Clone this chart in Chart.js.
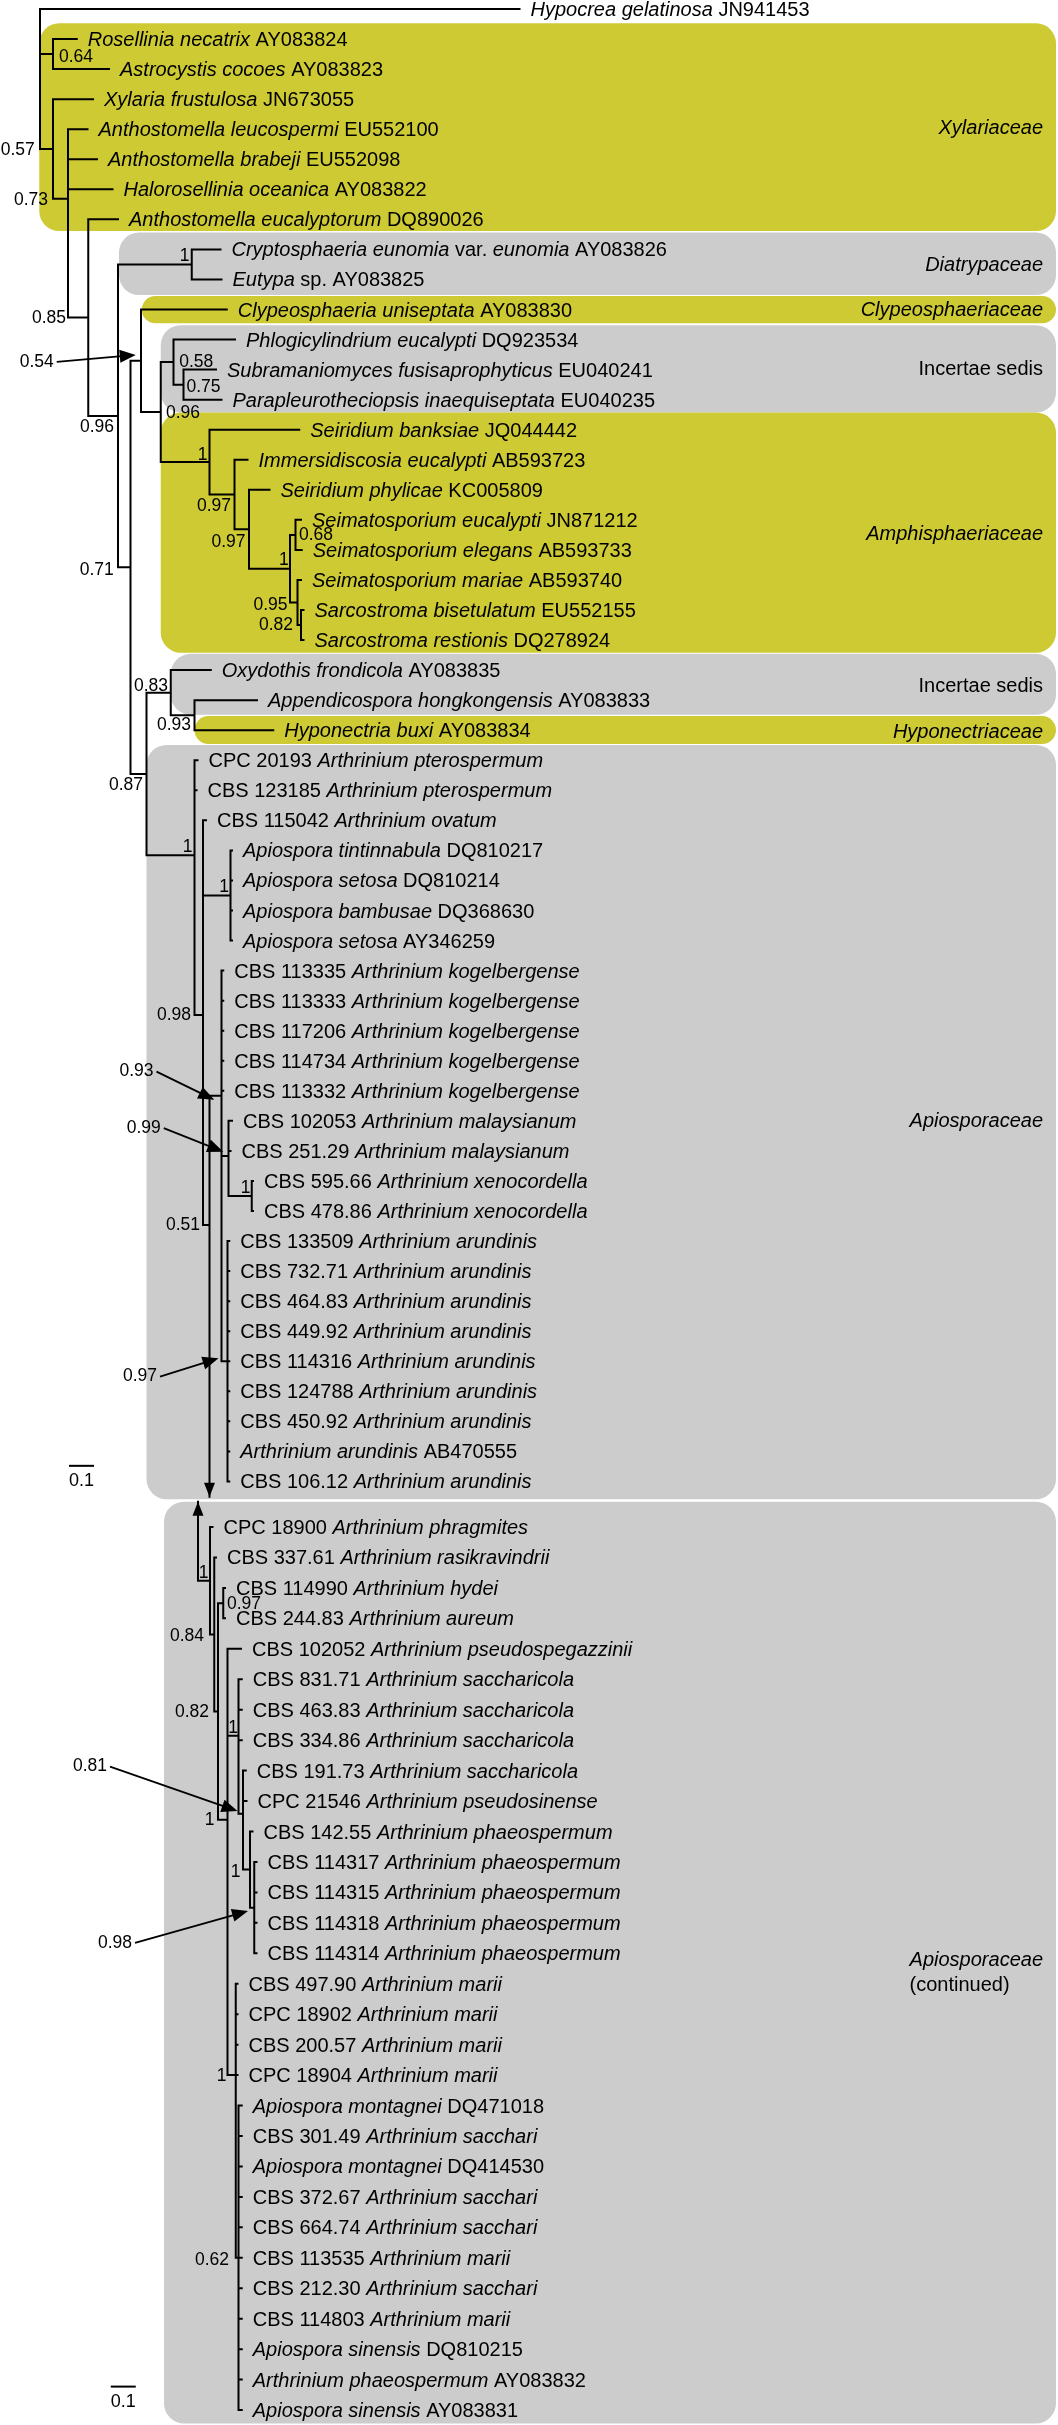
<!DOCTYPE html>
<html>
<head>
<meta charset="utf-8">
<script src="https://cdn.jsdelivr.net/npm/chart.js@4.4.1/dist/chart.umd.min.js"></script>
<style>
  html, body { margin: 0; padding: 0; background: #fff; }
  #wrap { position: relative; width: 1058px; height: 2425px; overflow: hidden; }
  #wrap canvas { position: absolute; left: 0; }
</style>
</head>
<body>
<div id="wrap">
  <canvas id="upper" width="1058" height="1501" style="top:0px"></canvas>
  <canvas id="lower" width="1058" height="935" style="top:1490px"></canvas>
</div>
<script>
// taxa, top to bottom. _..._ marks italic runs
const taxa = [
  "_Hypocrea gelatinosa_ JN941453",
  "_Rosellinia necatrix_ AY083824",
  "_Astrocystis cocoes_ AY083823",
  "_Xylaria frustulosa_ JN673055",
  "_Anthostomella leucospermi_ EU552100",
  "_Anthostomella brabeji_ EU552098",
  "_Halorosellinia oceanica_ AY083822",
  "_Anthostomella eucalyptorum_ DQ890026",
  "_Cryptosphaeria eunomia_ var. _eunomia_ AY083826",
  "_Eutypa_ sp. AY083825",
  "_Clypeosphaeria uniseptata_ AY083830",
  "_Phlogicylindrium eucalypti_ DQ923534",
  "_Subramaniomyces fusisaprophyticus_ EU040241",
  "_Parapleurotheciopsis inaequiseptata_ EU040235",
  "_Seiridium banksiae_ JQ044442",
  "_Immersidiscosia eucalypti_ AB593723",
  "_Seiridium phylicae_ KC005809",
  "_Seimatosporium eucalypti_ JN871212",
  "_Seimatosporium elegans_ AB593733",
  "_Seimatosporium mariae_ AB593740",
  "_Sarcostroma bisetulatum_ EU552155",
  "_Sarcostroma restionis_ DQ278924",
  "_Oxydothis frondicola_ AY083835",
  "_Appendicospora hongkongensis_ AY083833",
  "_Hyponectria buxi_ AY083834",
  "CPC 20193 _Arthrinium pterospermum_",
  "CBS 123185 _Arthrinium pterospermum_",
  "CBS 115042 _Arthrinium ovatum_",
  "_Apiospora tintinnabula_ DQ810217",
  "_Apiospora setosa_ DQ810214",
  "_Apiospora bambusae_ DQ368630",
  "_Apiospora setosa_ AY346259",
  "CBS 113335 _Arthrinium kogelbergense_",
  "CBS 113333 _Arthrinium kogelbergense_",
  "CBS 117206 _Arthrinium kogelbergense_",
  "CBS 114734 _Arthrinium kogelbergense_",
  "CBS 113332 _Arthrinium kogelbergense_",
  "CBS 102053 _Arthrinium malaysianum_",
  "CBS 251.29 _Arthrinium malaysianum_",
  "CBS 595.66 _Arthrinium xenocordella_",
  "CBS 478.86 _Arthrinium xenocordella_",
  "CBS 133509 _Arthrinium arundinis_",
  "CBS 732.71 _Arthrinium arundinis_",
  "CBS 464.83 _Arthrinium arundinis_",
  "CBS 449.92 _Arthrinium arundinis_",
  "CBS 114316 _Arthrinium arundinis_",
  "CBS 124788 _Arthrinium arundinis_",
  "CBS 450.92 _Arthrinium arundinis_",
  "_Arthrinium arundinis_ AB470555",
  "CBS 106.12 _Arthrinium arundinis_",
  "CPC 18900 _Arthrinium phragmites_",
  "CBS 337.61 _Arthrinium rasikravindrii_",
  "CBS 114990 _Arthrinium hydei_",
  "CBS 244.83 _Arthrinium aureum_",
  "CBS 102052 _Arthrinium pseudospegazzinii_",
  "CBS 831.71 _Arthrinium saccharicola_",
  "CBS 463.83 _Arthrinium saccharicola_",
  "CBS 334.86 _Arthrinium saccharicola_",
  "CBS 191.73 _Arthrinium saccharicola_",
  "CPC 21546 _Arthrinium pseudosinense_",
  "CBS 142.55 _Arthrinium phaeospermum_",
  "CBS 114317 _Arthrinium phaeospermum_",
  "CBS 114315 _Arthrinium phaeospermum_",
  "CBS 114318 _Arthrinium phaeospermum_",
  "CBS 114314 _Arthrinium phaeospermum_",
  "CBS 497.90 _Arthrinium marii_",
  "CPC 18902 _Arthrinium marii_",
  "CBS 200.57 _Arthrinium marii_",
  "CPC 18904 _Arthrinium marii_",
  "_Apiospora montagnei_ DQ471018",
  "CBS 301.49 _Arthrinium sacchari_",
  "_Apiospora montagnei_ DQ414530",
  "CBS 372.67 _Arthrinium sacchari_",
  "CBS 664.74 _Arthrinium sacchari_",
  "CBS 113535 _Arthrinium marii_",
  "CBS 212.30 _Arthrinium sacchari_",
  "CBS 114803 _Arthrinium marii_",
  "_Apiospora sinensis_ DQ810215",
  "_Arthrinium phaeospermum_ AY083832",
  "_Apiospora sinensis_ AY083831"
];

// distance of each tip from the root (substitutions per site)
const tipDepth = [
  1.918, 0.147, 0.276, 0.212, 0.190, 0.228, 0.290, 0.312,
  0.722, 0.726, 0.747, 0.780, 0.704, 0.726,
  1.037, 0.830, 0.918, 1.044, 1.047, 1.044, 1.054, 1.054,
  0.683, 0.868, 0.933,
  0.630, 0.626, 0.664, 0.768, 0.768, 0.768, 0.768,
  0.733, 0.733, 0.733, 0.733, 0.733,
  0.768, 0.762, 0.852, 0.852,
  0.757, 0.757, 0.757, 0.757, 0.757, 0.757, 0.757, 0.757, 0.757,
  0.690, 0.704, 0.740, 0.740, 0.804, 0.807, 0.807, 0.807, 0.823, 0.826,
  0.850, 0.866, 0.866, 0.866, 0.866,
  0.790, 0.790, 0.790, 0.790,
  0.807, 0.807, 0.807, 0.807, 0.807, 0.807, 0.807, 0.807, 0.807, 0.807, 0.807
];

// internal nodes: id, depth, children (tip index or node id), optional row
const upperNodes = [
  ['root', 0.000, [0, 'ros', 'n57']],
  ['ros', 0.052, [1, 2]],
  ['n57', 0.052, [3, 'n73']],
  ['n73', 0.112, [4, 5, 6, 'n85']],
  ['n85', 0.193, [7, 'n96a']],
  ['n96a', 0.312, ['dia', 'n71']],
  ['dia', 0.607, [8, 9]],
  ['n71', 0.362, ['n54', 'n87']],
  ['n54', 0.404, [10, 'n96b']],
  ['n96b', 0.483, ['inc', 'amp']],
  ['inc', 0.534, [11, 'n75']],
  ['n75', 0.574, [12, 13]],
  ['amp', 0.678, [14, 'n97a']],
  ['n97a', 0.778, [15, 'n97b']],
  ['n97b', 0.836, [16, 'sei']],
  ['sei', 1.000, ['n68', 'n95']],
  ['n68', 1.022, [17, 18]],
  ['n95', 1.030, [19, 'n82']],
  ['n82', 1.044, [20, 21]],
  ['n87', 0.426, ['n83', 'api']],
  ['n83', 0.523, [22, 'n93']],
  ['n93', 0.618, [23, 24]],
  ['api', 0.618, [25, 26, 'n98']],
  ['n98', 0.652, [27, 'apo', 'n51'], 33.48],
  ['apo', 0.762, [28, 29, 30, 31]],
  ['n51', 0.678, ['kog'], 40.47],
  ['kog', 0.726, [32, 33, 34, 35, 36, 'n99', 'aru']],
  ['n99', 0.754, [37, 38, 'xen']],
  ['xen', 0.847, [39, 40]],
  ['aru', 0.750, [41, 42, 43, 44, 45, 46, 47, 48, 49]]
];
const lowerNodes = [
  ['link', 0.632, ['l1']],
  ['l1', 0.680, [50, 'l84']],
  ['l84', 0.697, [51, 'l82']],
  ['l82', 0.712, ['l97', 'l1b']],
  ['l97', 0.733, [52, 53]],
  ['l1b', 0.750, [54, 'l1s', 'lma']],
  ['l1s', 0.794, [55, 56, 57, 'l81']],
  ['l81', 0.812, [58, 59, 'lph']],
  ['lph', 0.840, [60, 'lph2']],
  ['lph2', 0.857, [61, 62, 63, 64]],
  ['lma', 0.783, [65, 66, 67, 68, 'l62']],
  ['l62', 0.794, [69, 70, 71, 72, 73, 74, 75, 76, 77, 78, 79]]
];
// the tree continues from one panel to the next: node, row of arrow tip, direction
const panelLinks = [['n51', 49.51, 'down'], ['link', 49.17, 'up']];

// posterior probabilities: value, depth, row
const supportUpper = [
  ['0.57', -0.089, 4.69], ['0.64', 0.144, 1.60], ['0.73', -0.036, 6.36], ['0.85', 0.036, 10.29],
  ['1', 0.578, 8.24], ['0.96', 0.228, 13.90], ['0.71', 0.227, 18.67], ['0.58', 0.625, 11.74],
  ['0.75', 0.654, 12.57], ['0.96', 0.572, 13.45], ['1', 0.650, 14.84], ['0.97', 0.696, 16.56],
  ['0.97', 0.754, 17.73], ['1', 0.975, 18.34], ['0.68', 1.104, 17.50], ['0.95', 0.922, 19.83],
  ['0.82', 0.944, 20.50], ['0.83', 0.444, 22.52], ['0.93', 0.536, 23.83], ['0.87', 0.344, 25.82],
  ['1', 0.590, 27.88], ['1', 0.736, 29.21], ['0.98', 0.536, 33.48], ['0.51', 0.572, 40.47],
  ['1', 0.822, 39.23]
];
const supportLower = [
  ['1', 0.654, 51.51], ['0.97', 0.816, 52.53], ['0.84', 0.588, 53.60], ['0.82', 0.608, 56.07],
  ['1', 0.772, 56.60], ['1', 0.678, 59.62], ['1', 0.782, 61.32], ['1', 0.726, 68.05],
  ['0.62', 0.688, 74.07]
];
// values shown with an arrow: value, label depth, label row, tip depth, tip row
const pointerUpper = [
  ['0.54', 0.055, 11.74, 0.383, 11.51],
  ['0.93', 0.454, 35.36, 0.697, 36.30],
  ['0.99', 0.483, 37.24, 0.733, 38.03],
  ['0.97', 0.468, 45.51, 0.714, 44.90]
];
const pointerLower = [
  ['0.81', 0.268, 57.87, 0.790, 59.33],
  ['0.98', 0.368, 63.66, 0.832, 62.61]
];

// families
const cladeNames = ['Xylariaceae', 'Diatrypaceae', 'Clypeosphaeriaceae', 'Incertae sedis',
  'Amphisphaeriaceae', 'Incertae sedis', 'Hyponectriaceae', 'Apiosporaceae', 'Apiosporaceae'];
const cladeItalic = [true, true, true, false, true, false, true, true, true];
const cladeLeft = [-0.003, 0.316, 0.407, 0.483, 0.483, 0.523, 0.618, 0.426, 0.496];
const cladeTop = [0.476, 7.44, 9.55, 10.52, 13.43, 21.46, 23.53, 24.49, 49.17];
const cladeBottom = [7.39, 9.52, 10.46, 13.43, 21.42, 23.49, 24.46, 49.59, 79.44];
const cladeLabelRow = [3.98, 8.52, 10.02, 11.99, 17.47, 22.53, 24.06, 37.02, 64.25];
const cladeShade = ['olive', 'grey', 'olive', 'grey', 'olive', 'grey', 'olive', 'grey', 'grey'];

const scaleBarLen = 0.1;

// ---------------------------------------------------------------
const FONT = '"Liberation Sans", Arial, Helvetica, sans-serif';
const shades = { olive: 'rgb(205,202,52)', grey: 'rgb(204,204,204)' };
const PX_PER_UNIT = 250;  // 0.1 = 25 px
const ROOT_PX = 40;

const panels = [
  { id: 'upper', nodes: upperNodes, tips: [0, 49], firstRow: 0, firstPx: 9, rowPx: 30.05,
    supports: supportUpper, pointers: pointerUpper, clades: [0, 1, 2, 3, 4, 5, 6, 7],
    bar: [0.116, 48.48] },
  { id: 'lower', nodes: lowerNodes, tips: [50, 79], firstRow: 50, firstPx: 37, rowPx: 30.45,
    supports: supportLower, pointers: pointerLower, clades: [8],
    bar: [0.283, 78.23] }
];

const mean = a => a.reduce((s, v) => s + v, 0) / a.length;

function layout(nodes) {
  const map = new Map(nodes.map(n => [n[0], n]));
  const yOf = c => {
    if (typeof c === 'number') return c;
    const n = map.get(c);
    return n[3] !== undefined ? n[3] : mean(n[2].map(yOf));
  };
  const xOf = c => typeof c === 'number' ? tipDepth[c] : map.get(c)[1];
  const pts = [];
  nodes.forEach(([id, x, kids]) => {
    const ys = kids.map(yOf);
    const link = panelLinks.find(l => l[0] === id);
    if (link) ys.push(link[1]);
    pts.push({ x: x, y: Math.min(...ys) }, { x: x, y: Math.max(...ys) }, { x: NaN, y: NaN });
    kids.forEach(k => {
      const y = yOf(k);
      pts.push({ x: x, y: y }, { x: xOf(k), y: y }, { x: NaN, y: NaN });
    });
  });
  return pts;
}

function drawRich(ctx, str, x, y, size) {
  let cx = x;
  str.split('_').forEach((part, i) => {
    if (!part) return;
    ctx.font = (i % 2 ? 'italic ' : '') + size + 'px ' + FONT;
    ctx.fillText(part, cx, y);
    cx += ctx.measureText(part).width;
  });
}

function arrow(ctx, x1, y1, x2, y2, len, half) {
  const a = Math.atan2(y2 - y1, x2 - x1);
  const c = Math.cos(a), s = Math.sin(a);
  ctx.beginPath();
  ctx.moveTo(x1, y1);
  ctx.lineTo(x2 - c * len * 0.7, y2 - s * len * 0.7);
  ctx.stroke();
  ctx.beginPath();
  ctx.moveTo(x2, y2);
  ctx.lineTo(x2 - len * c + half * s, y2 - len * s - half * c);
  ctx.lineTo(x2 - len * c - half * s, y2 - len * s + half * c);
  ctx.closePath();
  ctx.fill();
}

function decorations(p) {
  return {
    id: 'treeDeco',
    beforeDatasetsDraw(chart) {
      const { ctx, chartArea, scales: { x, y } } = chart;
      ctx.save();
      p.clades.forEach(i => {
        const left = x.getPixelForValue(cladeLeft[i]);
        const top = y.getPixelForValue(cladeTop[i]);
        const bot = y.getPixelForValue(cladeBottom[i]);
        const right = chartArea.right - 2;
        ctx.fillStyle = shades[cladeShade[i]];
        ctx.beginPath();
        ctx.roundRect(left, top, right - left, bot - top, Math.min(20, (bot - top) / 2));
        ctx.fill();
      });
      ctx.restore();
    },
    afterDatasetsDraw(chart) {
      const { ctx, chartArea, scales: { x, y } } = chart;
      ctx.save();
      ctx.fillStyle = '#000';
      ctx.strokeStyle = '#000';

      // tip names
      ctx.textAlign = 'left';
      ctx.textBaseline = 'alphabetic';
      for (let i = p.tips[0]; i <= p.tips[1]; i++) {
        drawRich(ctx, taxa[i], x.getPixelForValue(tipDepth[i]) + 11, y.getPixelForValue(i) + 7, 20);
      }

      // family names
      const rx = chartArea.right - 15;
      p.clades.forEach(i => {
        ctx.font = (cladeItalic[i] ? 'italic ' : '') + '20px ' + FONT;
        ctx.textBaseline = 'middle';
        ctx.textAlign = 'right';
        ctx.fillText(cladeNames[i], rx, y.getPixelForValue(cladeLabelRow[i]));
        if (i === 8) {
          const w = ctx.measureText(cladeNames[i]).width;
          ctx.font = '20px ' + FONT;
          ctx.textAlign = 'left';
          ctx.fillText('(continued)', rx - w, y.getPixelForValue(cladeLabelRow[i]) + 25);
        }
      });

      // support values
      ctx.font = '17.5px ' + FONT;
      ctx.textAlign = 'center';
      ctx.textBaseline = 'middle';
      p.supports.forEach(([t, sx, sy]) => ctx.fillText(t, x.getPixelForValue(sx), y.getPixelForValue(sy)));

      ctx.textAlign = 'right';
      ctx.lineWidth = 1.8;
      p.pointers.forEach(([t, lx, ly, tx, ty]) => {
        const px = x.getPixelForValue(lx), py = y.getPixelForValue(ly);
        ctx.fillText(t, px, py);
        arrow(ctx, px + 3, py, x.getPixelForValue(tx), y.getPixelForValue(ty), 16, 6.5);
      });

      // arrowheads where the tree continues between panels
      p.nodes.forEach(([id, depth]) => {
        const link = panelLinks.find(l => l[0] === id);
        if (!link) return;
        const ax = x.getPixelForValue(depth), ay = y.getPixelForValue(link[1]);
        const d = link[2] === 'down' ? -1 : 1;
        ctx.beginPath();
        ctx.moveTo(ax, ay);
        ctx.lineTo(ax - 5.5, ay + d * 14);
        ctx.lineTo(ax + 5.5, ay + d * 14);
        ctx.closePath();
        ctx.fill();
      });

      // scale bar
      const bx0 = x.getPixelForValue(p.bar[0]);
      const bx1 = x.getPixelForValue(p.bar[0] + scaleBarLen);
      const by = y.getPixelForValue(p.bar[1]);
      ctx.lineWidth = 2;
      ctx.beginPath();
      ctx.moveTo(bx0, by);
      ctx.lineTo(bx1, by);
      ctx.stroke();
      ctx.font = '18px ' + FONT;
      ctx.textAlign = 'center';
      ctx.textBaseline = 'middle';
      ctx.fillText(String(scaleBarLen), (bx0 + bx1) / 2, by + 15);
      ctx.restore();
    }
  };
}

panels.forEach(p => {
  const canvas = document.getElementById(p.id);
  const H = canvas.height;
  const yMin = p.firstRow - p.firstPx / p.rowPx;
  const yMax = yMin + H / p.rowPx;
  const xMin = -ROOT_PX / PX_PER_UNIT;
  const xMax = xMin + canvas.width / PX_PER_UNIT;
  new Chart(canvas, {
    type: 'scatter',
    data: {
      datasets: [{
        data: layout(p.nodes),
        showLine: true,
        spanGaps: false,
        borderColor: '#000',
        borderWidth: 2,
        borderCapStyle: 'square',
        pointRadius: 0,
        pointHoverRadius: 0
      }]
    },
    options: {
      responsive: false,
      animation: false,
      devicePixelRatio: 1,
      events: [],
      layout: { padding: 0 },
      scales: {
        x: { type: 'linear', min: xMin, max: xMax, display: false },
        y: { type: 'linear', min: yMin, max: yMax, reverse: true, display: false }
      },
      plugins: { legend: { display: false }, tooltip: { enabled: false } }
    },
    plugins: [decorations(p)]
  });
});
</script>
</body>
</html>
